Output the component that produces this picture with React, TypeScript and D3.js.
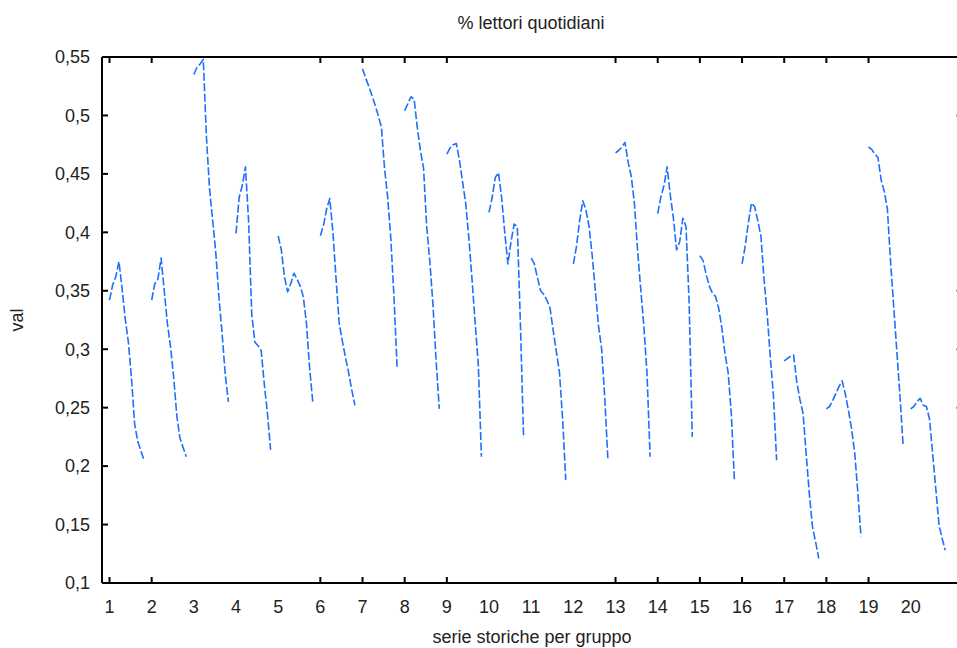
import React from 'react';
import * as d3 from 'd3';

const TITLE = '% lettori quotidiani';
const X_LABEL = 'serie storiche per gruppo';
const Y_LABEL = 'val';

const groupLabels = [1, 2, 3, 4, 5, 6, 7, 8, 9, 10, 11, 12, 13, 14, 15, 16, 17, 18, 19, 20];
const xTickGroups = [1, 2, 6, 7, 8, 9, 13, 14, 15, 16, 17, 18, 19];
const yTicks = [0.1, 0.15, 0.2, 0.25, 0.3, 0.35, 0.4, 0.45, 0.5, 0.55];
const rightTicks = [0.5, 0.35, 0.3, 0.25];

const g01 = [0.342, 0.355, 0.362, 0.375, 0.352, 0.326, 0.306, 0.275, 0.236, 0.221, 0.213, 0.205];
const g02 = [0.342, 0.356, 0.360, 0.378, 0.350, 0.322, 0.302, 0.276, 0.243, 0.224, 0.216, 0.208];
const g03 = [0.535, 0.541, 0.544, 0.548, 0.482, 0.437, 0.410, 0.382, 0.344, 0.313, 0.278, 0.255];
const g04 = [0.399, 0.430, 0.440, 0.456, 0.410, 0.330, 0.306, 0.303, 0.299, 0.270, 0.245, 0.214];
const g05 = [0.397, 0.385, 0.362, 0.349, 0.356, 0.365, 0.360, 0.354, 0.345, 0.322, 0.284, 0.255];
const g06 = [0.397, 0.406, 0.420, 0.429, 0.400, 0.360, 0.322, 0.307, 0.293, 0.280, 0.265, 0.252];
const g07 = [0.540, 0.532, 0.525, 0.517, 0.509, 0.500, 0.490, 0.455, 0.430, 0.395, 0.345, 0.285];
const g08 = [0.504, 0.510, 0.516, 0.514, 0.490, 0.470, 0.455, 0.405, 0.375, 0.338, 0.290, 0.249];
const g09 = [0.467, 0.472, 0.475, 0.476, 0.462, 0.443, 0.425, 0.395, 0.360, 0.323, 0.287, 0.208];
const g10 = [0.417, 0.430, 0.447, 0.451, 0.430, 0.400, 0.373, 0.392, 0.407, 0.405, 0.320, 0.224];
const g11 = [0.378, 0.373, 0.361, 0.350, 0.347, 0.342, 0.335, 0.316, 0.298, 0.280, 0.240, 0.188];
const g12 = [0.373, 0.388, 0.410, 0.427, 0.419, 0.405, 0.380, 0.350, 0.320, 0.300, 0.258, 0.205];
const g13 = [0.468, 0.470, 0.473, 0.477, 0.460, 0.448, 0.425, 0.385, 0.352, 0.320, 0.280, 0.208];
const g14 = [0.416, 0.430, 0.440, 0.456, 0.432, 0.412, 0.385, 0.392, 0.412, 0.405, 0.340, 0.225];
const g15 = [0.380, 0.376, 0.364, 0.354, 0.348, 0.345, 0.335, 0.318, 0.296, 0.280, 0.245, 0.187];
const g16 = [0.373, 0.388, 0.408, 0.425, 0.422, 0.410, 0.397, 0.360, 0.330, 0.293, 0.260, 0.205];
const g17 = [0.290, 0.292, 0.294, 0.295, 0.272, 0.257, 0.245, 0.210, 0.176, 0.148, 0.135, 0.121];
const g18 = [0.249, 0.251, 0.256, 0.262, 0.268, 0.273, 0.262, 0.248, 0.232, 0.212, 0.178, 0.140];
const g19 = [0.473, 0.471, 0.467, 0.464, 0.445, 0.435, 0.420, 0.375, 0.337, 0.298, 0.260, 0.218];
const g20 = [0.249, 0.251, 0.255, 0.258, 0.252, 0.251, 0.240, 0.210, 0.180, 0.150, 0.138, 0.128];

const groupSeries = [g01, g02, g03, g04, g05, g06, g07, g08, g09, g10, g11, g12, g13, g14, g15, g16, g17, g18, g19, g20];

const W = 957;
const H = 648;
const LEFT = 102;
const RIGHT = 963;
const TOP = 57;
const BOTTOM = 583;
const SPAN = 0.82;
const FONT = '"Liberation Sans", Arial, sans-serif';
const FS = 18;
const fmt = (v: number) => String(+v.toFixed(2)).replace('.', ',');

export default function App() {
  const x = d3.scaleLinear().domain([0.822, 21.24]).range([LEFT, RIGHT]);
  const y = d3.scaleLinear().domain([0.1, 0.55]).range([BOTTOM, TOP]);
  const line = d3
    .line<[number, number]>()
    .x((d) => x(d[0]))
    .y((d) => y(d[1]));

  return (
    <svg
      width={W}
      height={H}
      style={{ position: 'absolute', left: 0, top: 0, background: '#fff' }}
      fontFamily={FONT}
    >
      <rect x={0} y={0} width={W} height={H} fill="#fff" />
      {groupSeries.map((vals, gi) => {
        const g = groupLabels[gi];
        const pts: [number, number][] = vals.map((v, k) => [g + (k * SPAN) / (vals.length - 1), v]);
        return (
          <path
            key={gi}
            d={line(pts) || ''}
            fill="none"
            stroke="#1f6fff"
            strokeWidth={1.6}
            strokeDasharray="8 2.5"
            strokeLinejoin="round"
          />
        );
      })}
      <line x1={LEFT} x2={LEFT} y1={TOP} y2={BOTTOM} stroke="#000" strokeWidth={2} />
      <line x1={LEFT} x2={RIGHT} y1={TOP} y2={TOP} stroke="#000" strokeWidth={2} />
      <line x1={LEFT} x2={RIGHT} y1={BOTTOM} y2={BOTTOM} stroke="#000" strokeWidth={2} />
      <line x1={RIGHT} x2={RIGHT} y1={TOP} y2={BOTTOM} stroke="#000" strokeWidth={2} />
      {yTicks.map((t) => (
        <g key={'y' + t}>
          <line x1={LEFT} x2={LEFT + 6} y1={y(t)} y2={y(t)} stroke="#000" strokeWidth={2} />
          <text x={90} y={y(t)} dy="0.35em" textAnchor="end" fontSize={FS} fill="#222">
            {fmt(t)}
          </text>
        </g>
      ))}
      {rightTicks.map((t) => (
        <line key={'r' + t} x1={RIGHT} x2={RIGHT - 7} y1={y(t)} y2={y(t)} stroke="#999" strokeWidth={2} />
      ))}
      {xTickGroups.map((g) => (
        <g key={'xt' + g}>
          <line x1={x(g)} x2={x(g)} y1={BOTTOM} y2={BOTTOM - 6} stroke="#000" strokeWidth={2} />
          <line x1={x(g)} x2={x(g)} y1={TOP} y2={TOP + 6} stroke="#000" strokeWidth={2} />
        </g>
      ))}
      {groupLabels.map((g) => (
        <text key={'xl' + g} x={x(g)} y={613} textAnchor="middle" fontSize={FS} fill="#222">
          {g}
        </text>
      ))}
      <text x={531} y={29} textAnchor="middle" fontSize={FS} fill="#222">
        {TITLE}
      </text>
      <text x={532} y={643} textAnchor="middle" fontSize={FS} fill="#222">
        {X_LABEL}
      </text>
      <text
        transform={`translate(23, ${(TOP + BOTTOM) / 2}) rotate(-90)`}
        textAnchor="middle"
        fontSize={FS}
        fill="#222"
      >
        {Y_LABEL}
      </text>
    </svg>
  );
}
